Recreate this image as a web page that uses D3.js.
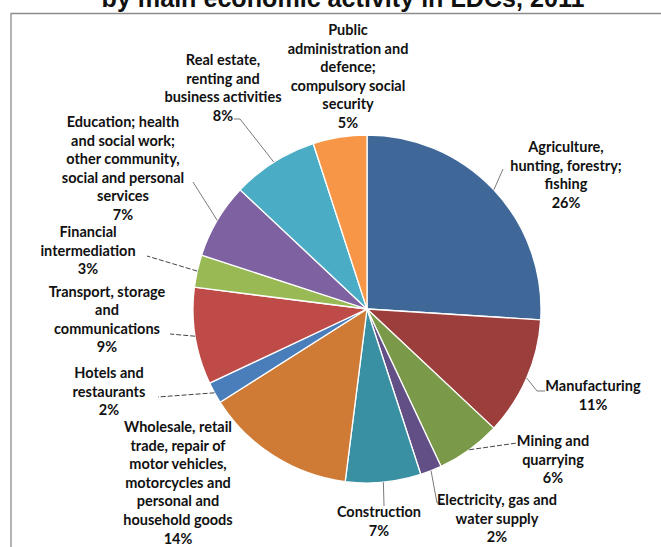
<!DOCTYPE html>
<html>
<head>
<meta charset="utf-8">
<script src="https://cdn.jsdelivr.net/npm/d3@7"></script>
<style>
  body { margin: 0; background: #fff; }
  svg { display: block; }
  .lbl { font-family: Lato, "Open Sans", sans-serif; font-weight: bold; font-size: 14.5px; fill: #111; }
</style>
</head>
<body>
<div id="chart"></div>
<script>
// Данные: доля занятости по видам экономической деятельности, %
const categories = [
    ['Agriculture,', 'hunting, forestry;', 'fishing'],
    ['Manufacturing'],
    ['Mining and', 'quarrying'],
    ['Electricity, gas and', 'water supply'],
    ['Construction'],
    ['Wholesale, retail', 'trade, repair of', 'motor vehicles,', 'motorcycles and', 'personal and', 'household goods'],
    ['Hotels and', 'restaurants'],
    ['Transport, storage', 'and', 'communications'],
    ['Financial', 'intermediation'],
    ['Education; health', 'and social work;', 'other community,', 'social and personal', 'services'],
    ['Real estate,', 'renting and', 'business activities'],
    ['Public', 'administration and', 'defence;', 'compulsory social', 'security']
];
const values = [26, 11, 6, 2, 7, 14, 2, 9, 3, 7, 8, 5];
const colors = ['#3f6898', '#9c3e3b', '#7b9a49', '#624f85', '#3a90a3', '#cf7b36',
    '#4a7ebb', '#be4b48', '#98b954', '#7e61a0', '#4bacc6', '#f79646'];

const title = 'by main economic activity in LDCs, 2011';

// Раскладка подписей (центр первой строки) и точки выносок после края круга
const labelLayout = [
    { x: 566, y: 147, lead: [[503, 169]] },
    { x: 593, y: 386, lead: [[537, 391], [545, 391]] },
    { x: 553, y: 441, lead: [[517, 443]], dash: true },
    { x: 497, y: 500, lead: [[437, 503], [444, 503]] },
    { x: 379, y: 512, lead: [[384, 506]] },
    { x: 178, y: 427, lead: null },
    { x: 109, y: 373, lead: [[158, 397]], dash: true },
    { x: 107, y: 291.5, lead: [[170, 334]], dash: true },
    { x: 88, y: 232, lead: [[147, 256]], dash: true },
    { x: 123, y: 122, lead: [[193, 182]] },
    { x: 223, y: 60, lead: [[240, 119], [234, 119]] },
    { x: 348, y: 30, lead: null }
];

const width = 661;
const height = 547;
const cx = 367;
const cy = 309;
const radius = 174;
const lineH = 18.6;

const svg = d3.select('#chart').append('svg')
    .attr('width', width)
    .attr('height', height);

// рамка области диаграммы
svg.append('path')
    .attr('d', 'M11,' + height + 'V13.5H' + width)
    .attr('fill', 'none')
    .attr('stroke', '#8c8c8c')
    .attr('stroke-width', 1.3);

// заголовок (обрезан сверху, как в исходнике)
const titleEl = svg.append('text')
    .attr('x', 343)
    .attr('y', 7)
    .attr('text-anchor', 'middle')
    .style('font-family', '"Liberation Sans", Arial, sans-serif')
    .style('font-weight', 'bold')
    .style('font-size', '21px')
    .attr('fill', '#111')
    .text(title);
const tw = titleEl.node().getComputedTextLength();
titleEl.style('font-size', (21 * 483 / tw) + 'px');

const pie = d3.pie().sort(null).value(d => d)(values);
const arc = d3.arc().innerRadius(0).outerRadius(radius);
const edge = d3.arc().innerRadius(radius).outerRadius(radius);

const g = svg.append('g').attr('transform', 'translate(' + cx + ',' + cy + ')');

g.selectAll('path.slice')
    .data(pie)
    .enter()
    .append('path')
    .attr('class', 'slice')
    .attr('d', arc)
    .attr('fill', (d, i) => colors[i])
    .attr('stroke', '#fff')
    .attr('stroke-width', 1.3)
    .attr('stroke-linejoin', 'round');

// выноски
const line = d3.line();
pie.forEach((d, i) => {
    const lay = labelLayout[i];
    if (!lay.lead) return;
    const p = edge.centroid(d);
    const pts = [[cx + p[0], cy + p[1]]].concat(lay.lead);
    svg.append('path')
        .attr('d', line(pts))
        .attr('fill', 'none')
        .attr('stroke', lay.dash ? '#444' : '#7a7a7a')
        .attr('stroke-width', 1)
        .attr('stroke-dasharray', lay.dash ? '5,2' : null);
});

// подписи
const total = d3.sum(values);
categories.forEach((lines, i) => {
    const lay = labelLayout[i];
    const all = lines.concat([Math.round(values[i] / total * 100) + '%']);
    const t = svg.append('text')
        .attr('class', 'lbl')
        .attr('text-anchor', 'middle');
    all.forEach((s, k) => {
        t.append('tspan')
            .attr('x', lay.x)
            .attr('y', lay.y + k * lineH)
            .attr('dy', '0.35em')
            .text(s);
    });
});
</script>
</body>
</html>
